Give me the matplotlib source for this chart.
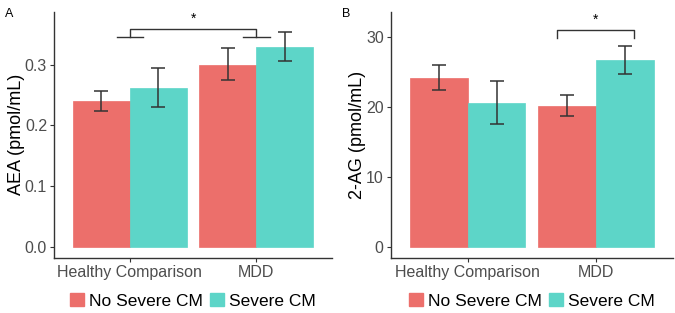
import numpy as np
import matplotlib
matplotlib.use("Agg")
import matplotlib.pyplot as plt
from matplotlib.patches import Patch

plt.rcParams['font.family'] = ['Liberation Sans', 'DejaVu Sans']

groups = ["Healthy Comparison", "MDD"]
series = ["No Severe CM", "Severe CM"]
colors = ["#EC6F6B", "#5DD5C8"]

# AEA (pmol/mL): mean, lower, upper
aea_mean = [[0.240, 0.300], [0.262, 0.330]]
aea_low = [[0.224, 0.275], [0.231, 0.307]]
aea_high = [[0.256, 0.327], [0.294, 0.354]]

# 2-AG (pmol/mL)
ag_mean = [[24.1, 20.1], [20.5, 26.6]]
ag_low = [[22.3, 18.7], [17.5, 24.6]]
ag_high = [[26.0, 21.6], [23.6, 28.6]]

fig = plt.figure(figsize=(6.75, 3.13), dpi=100)
axA = fig.add_axes([0.080, 0.1767, 0.412, 0.785])
axB = fig.add_axes([0.5788, 0.1767, 0.4182, 0.785])

width = 0.45
ind = np.arange(1, len(groups) + 1)


def draw(ax, mean, low, high, ylim, yticks, yticklabels, ylabel):
    for s in range(len(series)):
        x = ind + (s - 0.5) * width
        m = np.array(mean[s])
        ax.bar(x, m, width, color=colors[s], edgecolor=colors[s], linewidth=0.5)
        err = [m - np.array(low[s]), np.array(high[s]) - m]
        ax.errorbar(x, m, yerr=err, fmt='none', ecolor='#333333',
                    elinewidth=1.1, capsize=4.7, capthick=1.1)
    ax.set_xlim(0.4, 2.6)
    ax.set_ylim(*ylim)
    ax.set_xticks(ind)
    ax.set_xticklabels(groups, fontsize=11.5, color='#4D4D4D')
    ax.set_yticks(yticks)
    ax.set_yticklabels(yticklabels, fontsize=11.5, color='#4D4D4D')
    ax.set_ylabel(ylabel, fontsize=13, color='black', labelpad=0)
    for sp in ['top', 'right']:
        ax.spines[sp].set_visible(False)
    for sp in ['left', 'bottom']:
        ax.spines[sp].set_color('#333333')
        ax.spines[sp].set_linewidth(1.0)
    ax.tick_params(axis='both', length=3, width=0.8, color='#333333', pad=2)


draw(axA, aea_mean, aea_low, aea_high, (-0.018, 0.387),
     [0.0, 0.1, 0.2, 0.3], ["0.0", "0.1", "0.2", "0.3"], "AEA (pmol/mL)")
draw(axB, ag_mean, ag_low, ag_high, (-1.56, 33.5),
     [0, 10, 20, 30], ["0", "10", "20", "30"], "2-AG (pmol/mL)")

# significance bracket, panel A (between groups)
lc = '#333333'
axA.plot([1.0, 1.0, 2.0, 2.0], [0.346, 0.3595, 0.3595, 0.346], color=lc, lw=1.0)
axA.plot([0.895, 1.105], [0.346, 0.346], color=lc, lw=1.0)
axA.plot([1.895, 2.105], [0.346, 0.346], color=lc, lw=1.0)
axA.text(1.5, 0.364, "*", ha='center', va='bottom', fontsize=10)

# significance bracket, panel B (within MDD)
axB.plot([1.7, 1.7, 2.3, 2.3], [29.8, 30.97, 30.97, 29.8], color=lc, lw=1.0)
axB.text(2.0, 31.4, "*", ha='center', va='bottom', fontsize=10)

fig.text(0.008, 0.975, "A", fontsize=9, va='top')
fig.text(0.507, 0.975, "B", fontsize=9, va='top')

handles = [Patch(facecolor=colors[i], edgecolor=colors[i]) for i in range(2)]
for ax in (axA, axB):
    ax.legend(handles, series, loc='center', bbox_to_anchor=(0.5, -0.175),
              ncol=2, frameon=False, fontsize=12.5, handlelength=0.8,
              handleheight=0.8, handletextpad=0.3, columnspacing=0.4,
              borderpad=0, borderaxespad=0)

fig.savefig("out.png", dpi=100)
